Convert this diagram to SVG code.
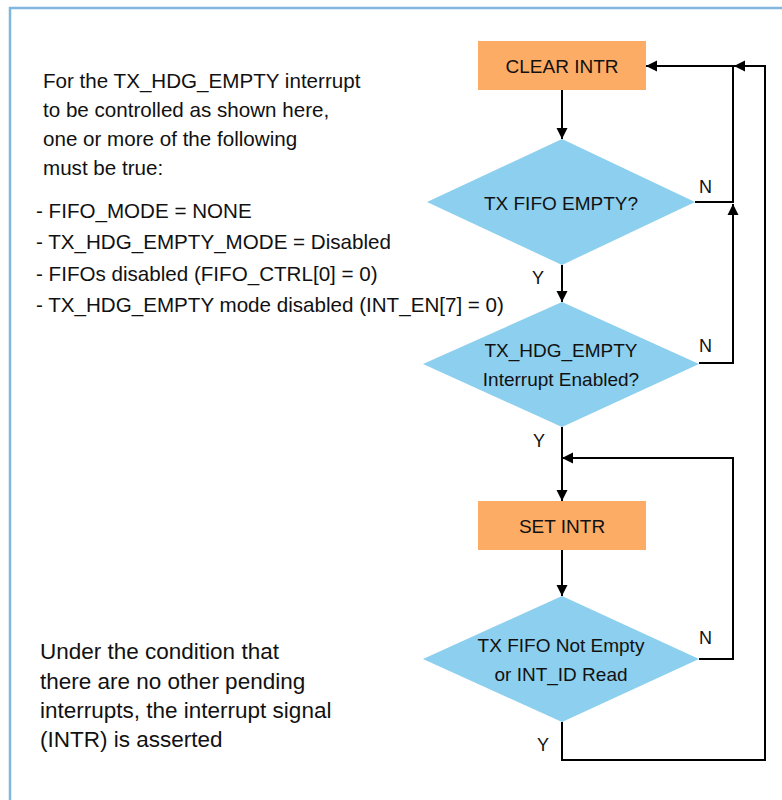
<svg xmlns="http://www.w3.org/2000/svg" width="782" height="800" viewBox="0 0 782 800">
  <style>
    .txt { font-family: "Liberation Sans", Arial, sans-serif; fill: #111; }
    .note { font-size: 20.6px; }
    .note-lg { font-size: 22.5px; }
    .lbl { font-size: 19px; text-anchor: middle; }
    .yn { font-size: 18px; }
    .proc { fill: #fdac66; }
    .dec { fill: #8ccfee; }
    .wire { fill: none; stroke: #000; stroke-width: 2; }
  </style>
  <defs>
    <marker id="arrow" markerUnits="userSpaceOnUse" markerWidth="12" markerHeight="12" viewBox="0 0 12 12" refX="11" refY="6" orient="auto">
      <path d="M0,0.5 L11,6 L0,11.5 Z" fill="#000"/>
    </marker>
  </defs>

  <rect x="0" y="0" width="782" height="800" fill="#fff"/>
  <!-- frame -->
  <rect x="10" y="8" width="800" height="820" fill="none" stroke="#80b6e0" stroke-width="2.5"/>

  <!-- side notes -->
  <g id="note-conditions" class="txt note">
    <text x="43" y="88">For the TX_HDG_EMPTY interrupt</text>
    <text x="43" y="117">to be controlled as shown here,</text>
    <text x="43" y="146">one or more of the following</text>
    <text x="43" y="175">must be true:</text>
    <text x="36" y="218">- FIFO_MODE = NONE</text>
    <text x="36" y="249">- TX_HDG_EMPTY_MODE = Disabled</text>
    <text x="36" y="281">- FIFOs disabled (FIFO_CTRL[0] = 0)</text>
    <text x="36" y="312">- TX_HDG_EMPTY mode disabled (INT_EN[7] = 0)</text>
  </g>
  <g id="note-intr" class="txt note-lg">
    <text x="40" y="659">Under the condition that</text>
    <text x="40" y="689">there are no other pending</text>
    <text x="40" y="718">interrupts, the interrupt signal</text>
    <text x="40" y="747">(INTR) is asserted</text>
  </g>

  <!-- connectors -->
  <g id="connectors" class="wire">
    <path d="M562 90 V139" marker-end="url(#arrow)"/>
    <path d="M695 202 H733 V66 H646" marker-end="url(#arrow)"/>
    <path d="M699 363 H733 V204" marker-end="url(#arrow)"/>
    <path d="M562 265 V302" marker-end="url(#arrow)"/>
    <path d="M562 427 V501" marker-end="url(#arrow)"/>
    <path d="M699 659 H733 V458 H562" marker-end="url(#arrow)"/>
    <path d="M562 550 V596" marker-end="url(#arrow)"/>
    <path d="M562 722 V760 H765 V66 H734" marker-end="url(#arrow)"/>
  </g>

  <!-- branch labels -->
  <g id="branch-labels" class="txt yn">
    <text x="699" y="193">N</text>
    <text x="532" y="284">Y</text>
    <text x="699" y="352">N</text>
    <text x="533" y="447">Y</text>
    <text x="699" y="644">N</text>
    <text x="537" y="751">Y</text>
  </g>

  <!-- nodes -->
  <g id="clear-intr">
    <rect class="proc" x="478" y="41" width="168" height="49"/>
    <text class="txt lbl" x="562" y="73">CLEAR INTR</text>
  </g>
  <g id="tx-fifo-empty">
    <polygon class="dec" points="562,139 695,202 562,265 427,202"/>
    <text class="txt lbl" x="561" y="210">TX FIFO EMPTY?</text>
  </g>
  <g id="tx-hdg-empty-enabled">
    <polygon class="dec" points="562,302 699,364 562,427 423,364"/>
    <text class="txt lbl" x="561" y="357">TX_HDG_EMPTY</text>
    <text class="txt lbl" x="561" y="386">Interrupt Enabled?</text>
  </g>
  <g id="set-intr">
    <rect class="proc" x="478" y="501" width="168" height="49"/>
    <text class="txt lbl" x="562" y="533">SET INTR</text>
  </g>
  <g id="fifo-not-empty">
    <polygon class="dec" points="562,596 699,659 562,722 423,659"/>
    <text class="txt lbl" x="561" y="652">TX FIFO Not Empty</text>
    <text class="txt lbl" x="561" y="681">or INT_ID Read</text>
  </g>
</svg>
